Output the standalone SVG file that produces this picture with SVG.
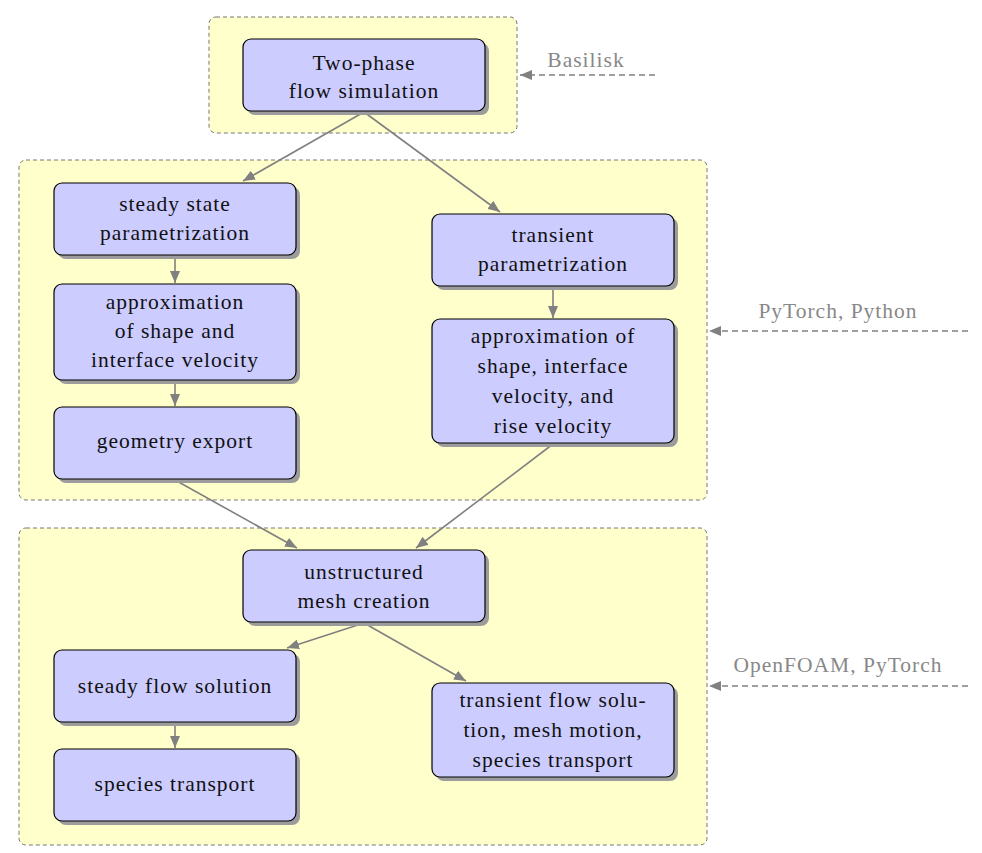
<svg xmlns="http://www.w3.org/2000/svg" width="982" height="853" viewBox="0 0 982 853">
<style>
.grp{fill:#ffffcc;stroke:#777;stroke-width:1;stroke-dasharray:4,3}
.sh{fill:#9c9c9c}
.box{fill:#ccccff;stroke:#000;stroke-width:1.2}
text{font-family:'Liberation Serif','Times New Roman','DejaVu Serif',serif;font-size:21.5px;letter-spacing:1px;text-anchor:middle}
.t{fill:#111}
.lbl{fill:#888}
.c{stroke:#808080;stroke-width:1.6;fill:none;marker-end:url(#ah)}
.d{stroke:#808080;stroke-width:1.6;fill:none;stroke-dasharray:6,4;marker-end:url(#ah)}
</style>
<defs>
<marker id="ah" viewBox="0 0 12 10" refX="12" refY="5" markerWidth="12" markerHeight="10" markerUnits="userSpaceOnUse" orient="auto">
<path d="M0,0 L12,5 L0,10 Z" fill="#808080"/>
</marker>
</defs>
<rect width="982" height="853" fill="#fff"/>
<g id="groups">
<rect class="grp" x="209" y="17" width="308" height="116" rx="7"/>
<rect class="grp" x="19" y="160" width="688" height="340" rx="7"/>
<rect class="grp" x="19" y="528" width="688" height="317" rx="7"/>
</g>
<g id="connectors">
<line class="c" x1="364" y1="112" x2="243" y2="181"/>
<line class="c" x1="364" y1="112" x2="500" y2="212"/>
<line class="c" x1="175" y1="256" x2="175" y2="283"/>
<line class="c" x1="175" y1="381" x2="175" y2="406"/>
<line class="c" x1="553" y1="287" x2="553" y2="318"/>
<line class="c" x1="175" y1="480" x2="297" y2="548"/>
<line class="c" x1="553" y1="444" x2="416" y2="548"/>
<line class="c" x1="364" y1="623" x2="287" y2="648"/>
<line class="c" x1="364" y1="623" x2="466" y2="681"/>
<line class="c" x1="175" y1="723" x2="175" y2="748"/>
<line class="d" x1="655" y1="75" x2="520" y2="75"/>
<line class="d" x1="968" y1="331" x2="709" y2="331"/>
<line class="d" x1="968" y1="686" x2="709" y2="686"/>
</g>
<g id="labels">
<text class="lbl" x="586" y="67">Basilisk</text>
<text class="lbl" x="838" y="318">PyTorch, Python</text>
<text class="lbl" x="838" y="672">OpenFOAM, PyTorch</text>
</g>
<g id="n1"><rect class="sh" x="247" y="43" width="242" height="72" rx="8"/><rect class="box" x="243" y="39" width="242" height="72" rx="8"/><text class="t" x="364" y="70">Two-phase</text><text class="t" x="364" y="98">flow simulation</text></g>
<g id="n2"><rect class="sh" x="58" y="187" width="242" height="72" rx="8"/><rect class="box" x="54" y="183" width="242" height="72" rx="8"/><text class="t" x="175" y="211">steady state</text><text class="t" x="175" y="240">parametrization</text></g>
<g id="n3"><rect class="sh" x="58" y="288" width="242" height="96" rx="8"/><rect class="box" x="54" y="284" width="242" height="96" rx="8"/><text class="t" x="175" y="309">approximation</text><text class="t" x="175" y="338">of shape and</text><text class="t" x="175" y="367">interface velocity</text></g>
<g id="n4"><rect class="sh" x="58" y="411" width="242" height="72" rx="8"/><rect class="box" x="54" y="407" width="242" height="72" rx="8"/><text class="t" x="175" y="448">geometry export</text></g>
<g id="n5"><rect class="sh" x="436" y="218" width="242" height="72" rx="8"/><rect class="box" x="432" y="214" width="242" height="72" rx="8"/><text class="t" x="553" y="242">transient</text><text class="t" x="553" y="271">parametrization</text></g>
<g id="n6"><rect class="sh" x="436" y="323" width="242" height="124" rx="8"/><rect class="box" x="432" y="319" width="242" height="124" rx="8"/><text class="t" x="553" y="343">approximation of</text><text class="t" x="553" y="373">shape, interface</text><text class="t" x="553" y="403">velocity, and</text><text class="t" x="553" y="433">rise velocity</text></g>
<g id="n7"><rect class="sh" x="247" y="554" width="242" height="72" rx="8"/><rect class="box" x="243" y="550" width="242" height="72" rx="8"/><text class="t" x="364" y="579">unstructured</text><text class="t" x="364" y="608">mesh creation</text></g>
<g id="n8"><rect class="sh" x="58" y="654" width="242" height="72" rx="8"/><rect class="box" x="54" y="650" width="242" height="72" rx="8"/><text class="t" x="175" y="693">steady flow solution</text></g>
<g id="n9"><rect class="sh" x="58" y="753" width="242" height="72" rx="8"/><rect class="box" x="54" y="749" width="242" height="72" rx="8"/><text class="t" x="175" y="791">species transport</text></g>
<g id="n10"><rect class="sh" x="436" y="687" width="242" height="94" rx="8"/><rect class="box" x="432" y="683" width="242" height="94" rx="8"/><text class="t" x="553" y="707">transient flow solu-</text><text class="t" x="553" y="737">tion, mesh motion,</text><text class="t" x="553" y="767">species transport</text></g>
</svg>
